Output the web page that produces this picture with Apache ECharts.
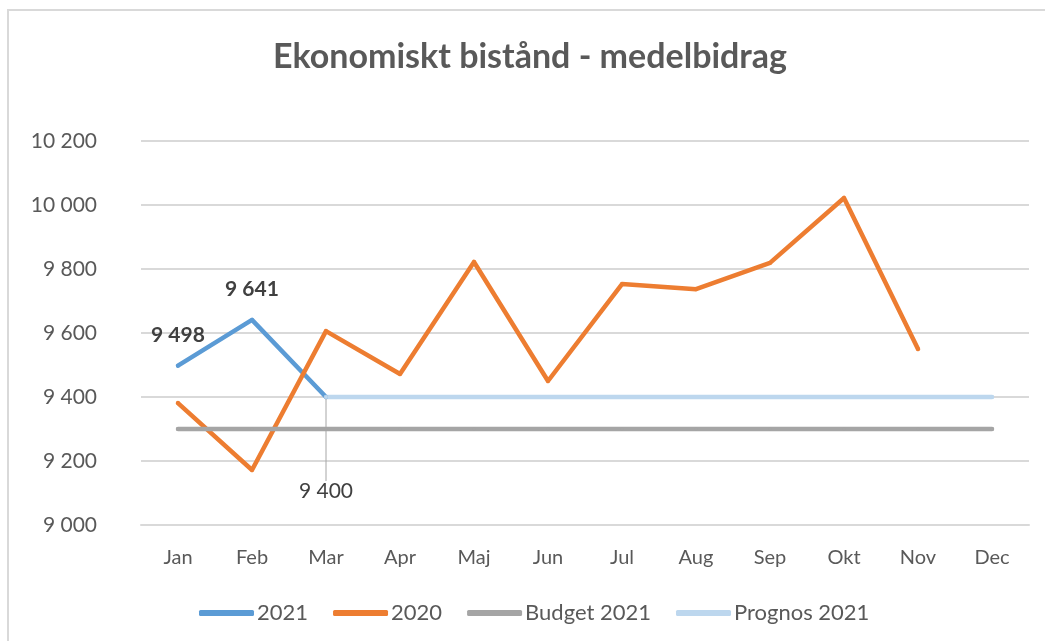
<!DOCTYPE html>
<html>
<head>
<meta charset="utf-8">
<script src="https://cdn.jsdelivr.net/npm/echarts@6/dist/echarts.min.js"></script>
<style>
  html, body { margin: 0; padding: 0; background: #ffffff; }
  #chart { width: 1045px; height: 641px; }
</style>
</head>
<body>
<div id="chart"></div>
<script>
// Months on the category axis
const months = ['Jan', 'Feb', 'Mar', 'Apr', 'Maj', 'Jun', 'Jul', 'Aug', 'Sep', 'Okt', 'Nov', 'Dec'];

// Average contribution per month (SEK)
const values2021 = [9498, 9641, 9400, null, null, null, null, null, null, null, null, null];
const values2020 = [9381, 9172, 9606, 9472, 9822, 9450, 9753, 9737, 9819, 10022, 9550, null];
const budget2021 = [9300, 9300, 9300, 9300, 9300, 9300, 9300, 9300, 9300, 9300, 9300, 9300];
const prognos2021 = [null, null, 9400, 9400, 9400, 9400, 9400, 9400, 9400, 9400, 9400, 9400];

// Value axis range
const yMin = 9000;
const yMax = 10200;
const yStep = 200;

const FONT = 'Lato, "Open Sans", sans-serif';
const TEXT = '#595959';

// Swedish style thousands grouping: "10 200"
function fmt(v) {
  return String(Math.round(v)).replace(/\B(?=(\d{3})+(?!\d))/g, ' ');
}

function lineSeries(name, data, color, extra) {
  return Object.assign({
    name: name,
    type: 'line',
    data: data,
    symbol: 'circle',
    symbolSize: 4,
    showSymbol: true,
    itemStyle: { color: color },
    lineStyle: { color: color, width: 4.5, cap: 'round', join: 'round' },
    emphasis: { disabled: true },
    animation: false
  }, extra || {});
}

// Labelled points of the 2021 series
const labelled2021 = values2021.map(function (v, i) {
  if (v == null) return v;
  if (i === 0 || i === 1) {
    return {
      value: v,
      label: {
        show: true, position: 'top', distance: 18,
        fontFamily: FONT, fontSize: 21, fontWeight: 'bold', color: '#404040',
        formatter: function (p) { return fmt(p.value); }
      }
    };
  }
  if (i === 2) {
    return {
      value: v,
      label: {
        show: true, position: 'bottom', distance: 4,
        fontFamily: FONT, fontSize: 21, color: '#404040',
        formatter: function (p) { return fmt(p.value); }
      },
      labelLine: { show: true, lineStyle: { color: '#a6a6a6', width: 1 } }
    };
  }
  return v;
});

const chart = echarts.init(document.getElementById('chart'), null, { renderer: 'canvas' });

chart.setOption({
  backgroundColor: '#ffffff',
  animation: false,
  title: {
    text: 'Ekonomiskt bistånd - medelbidrag',
    left: 268,
    top: 35,
    textStyle: { fontFamily: FONT, fontSize: 34, fontWeight: 'bold', color: TEXT }
  },
  graphic: [{
    type: 'rect',
    shape: { x: 8, y: 10, width: 1200, height: 800 },
    style: { fill: 'none', stroke: '#d9d9d9', lineWidth: 2 },
    silent: true
  }],
  grid: { left: 141, right: 16, top: 141, bottom: 116 },
  xAxis: {
    type: 'category',
    data: months,
    boundaryGap: true,
    axisLine: { show: true, lineStyle: { color: '#d9d9d9', width: 2 } },
    axisTick: { show: false },
    axisLabel: { fontFamily: FONT, fontSize: 20, color: TEXT, margin: 23 }
  },
  yAxis: {
    type: 'value',
    min: yMin,
    max: yMax,
    interval: yStep,
    axisLine: { show: false },
    axisTick: { show: false },
    splitLine: { lineStyle: { color: '#d9d9d9', width: 2 } },
    axisLabel: {
      fontFamily: FONT, fontSize: 21, color: TEXT, margin: 44,
      formatter: fmt
    }
  },
  legend: {
    left: 194,
    top: 597,
    itemWidth: 55,
    itemHeight: 6,
    itemGap: 25,
    icon: 'roundRect',
    textStyle: { fontFamily: FONT, fontSize: 22, color: TEXT, padding: [0, 0, 0, -2] },
    data: ['2021', '2020', 'Budget 2021', 'Prognos 2021']
  },
  series: [
    lineSeries('2021', labelled2021, '#5b9bd5', {
      labelLayout: function (p) {
        if (p.dataIndex === 2) return { dy: 78 };
        return {};
      }
    }),
    lineSeries('2020', values2020, '#ed7d31'),
    lineSeries('Budget 2021', budget2021, '#a5a5a5'),
    lineSeries('Prognos 2021', prognos2021, '#bdd7ee')
  ]
});
</script>
</body>
</html>
